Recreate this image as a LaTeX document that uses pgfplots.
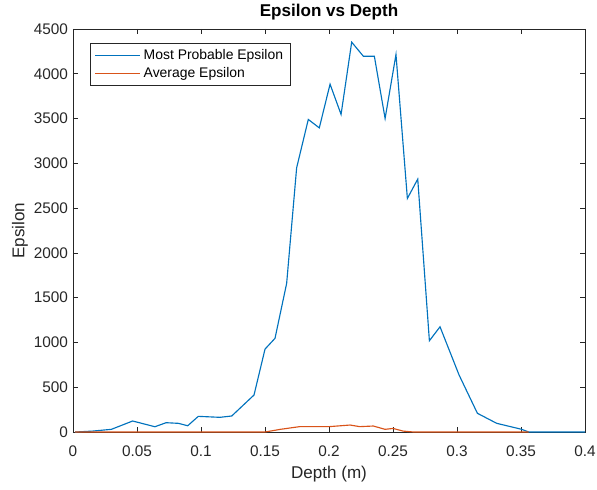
\documentclass[border=0pt]{standalone}
\usepackage{fontspec}
\setmainfont{Liberation Sans}
\usepackage{pgfplots}
\pgfplotsset{compat=1.18}
\definecolor{mblue}{rgb}{0,0.447,0.741}
\definecolor{morange}{rgb}{0.85,0.325,0.098}
\definecolor{axgray}{gray}{0.15}
\begin{document}
\begin{tikzpicture}
\begin{axis}[
  at={(0,0)}, anchor=south west, scale only axis,
  width=360.2pt, height=283.5pt,
  xmin=0, xmax=0.4, ymin=0, ymax=4500,
  xtick={0,0.05,0.1,0.15,0.2,0.25,0.3,0.35,0.4},
  xticklabels={0,0.05,0.1,0.15,0.2,0.25,0.3,0.35,0.4},
  ytick={0,500,1000,1500,2000,2500,3000,3500,4000,4500},
  yticklabels={0,500,1000,1500,2000,2500,3000,3500,4000,4500},
  scaled ticks=false,
  tick align=inside, major tick length=3.5pt,
  axis line style={axgray, line width=0.5pt},
  every tick/.style={axgray, line width=0.5pt},
  ticklabel style={font=\fontsize{10.8}{13}\selectfont, text=axgray},
  xticklabel style={yshift=-5.8pt},
  /pgf/number format/assume math mode=true,
  xlabel={Depth (m)}, ylabel={Epsilon}, title={Epsilon vs Depth},
  label style={font=\fontsize{12}{14}\selectfont, text=axgray},
  xlabel style={at={(axis description cs:0.5,-0.104)}, anchor=center},
  ylabel style={at={(axis description cs:-0.1036,0.5)}, anchor=center},
  every axis title shift=0pt,
  title style={font=\bfseries\fontsize{12}{14}\selectfont, text=black, at={(axis description cs:0.5,1.0423)}, anchor=center},
  legend style={at={(axis description cs:0,1)}, anchor=north west, xshift=12pt, yshift=-9.9pt,
    draw=axgray, line width=0.5pt, font=\fontsize{9.8}{12}\selectfont, cells={anchor=west}},
  legend image code/.code={\draw[#1] (0pt,0pt) -- (31.7pt,0pt);},
]
\addplot[mblue, line width=0.8pt] coordinates {
(0.0016,0) (0.015,10) (0.030,30) (0.0466,123) (0.064,59) (0.0727,104) (0.0823,97) (0.0896,70)
(0.0979,175) (0.1148,164) (0.124,179) (0.1414,413) (0.150,926) (0.1578,1046) (0.1669,1660)
(0.1747,2950) (0.1838,3490) (0.1924,3396) (0.2008,3884) (0.2094,3546) (0.2177,4353)
(0.2268,4196) (0.2354,4196) (0.2438,3501) (0.2523,4215) (0.2612,2608) (0.2693,2824)
(0.2784,1019) (0.2867,1175) (0.3016,636) (0.3159,209) (0.331,97) (0.3505,30) (0.356,0) (0.4,0)
};
\addlegendentry{Most Probable Epsilon}
\addplot[morange, line width=0.8pt] coordinates {
(0.0016,0) (0.15,0) (0.162,30) (0.177,60) (0.2,60) (0.2164,78) (0.224,60) (0.2346,67)
(0.2438,30) (0.25,40) (0.258,10) (0.266,0) (0.356,0)
};
\addlegendentry{Average Epsilon}
\end{axis}
\pgfresetboundingbox
\path (-51.35pt,-40.1pt) rectangle (368.6pt,303.9pt);
\end{tikzpicture}
\end{document}
